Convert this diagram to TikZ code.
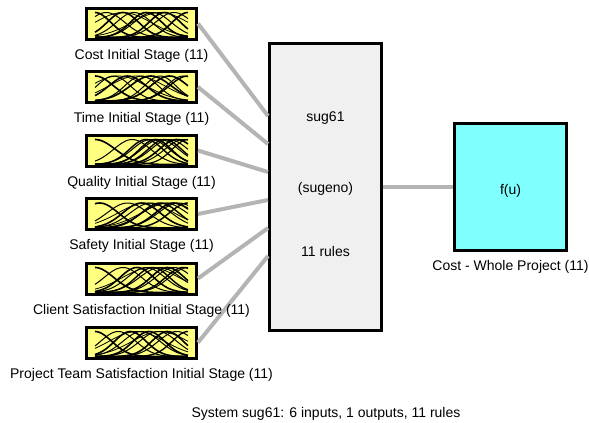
\documentclass[tikz,border=0pt]{standalone}
\usepackage{fontspec}
\setmainfont{Liberation Sans}
\usetikzlibrary{positioning,shadows}

\definecolor{mfyellow}{RGB}{255,255,128}
\definecolor{fisgray}{RGB}{240,240,240}
\definecolor{outcyan}{RGB}{128,255,255}
\definecolor{linkgray}{RGB}{180,180,180}

% membership functions drawn inside an input box
\newcommand{\drawmfs}[2]{%
    \begin{scope}[shift={(#1.south west)}, x=93pt, y=25pt, xshift=10pt, yshift=3pt]
        \foreach \c/\s/\w in {#2}
            \draw[line width=\w pt] plot[domain=0:1, samples=41, smooth]
                (\x, {exp(-(\x-(\c))*(\x-(\c))/(2*\s*\s))});
    \end{scope}%
}

\begin{document}
\begin{tikzpicture}[
                x=1pt, y=-1pt,
                shadowed/.style={
                    draw=black,
                    line width=3pt,
                    drop shadow={shadow xshift=-1pt, shadow yshift=-1pt, opacity=1, fill=black}
                },
                mfbox/.style={
                    shadowed,
                    fill=mfyellow,
                    minimum width=110pt,
                    minimum height=31pt
                },
                fisbox/.style={
                    shadowed,
                    fill=fisgray,
                    minimum width=112pt,
                    minimum height=287pt
                },
                outbox/.style={
                    shadowed,
                    fill=outcyan,
                    minimum width=112pt,
                    minimum height=127pt
                },
                lbl/.style={
                    inner sep=0pt,
                    text height=10pt,
                    text depth=3pt,
                    font=\fontsize{14}{16}\selectfont
                },
                txt/.style={
                    inner sep=0pt,
                    anchor=base,
                    font=\fontsize{14}{16}\selectfont
                },
                link/.style={
                    draw=linkgray,
                    line width=4pt
                }
            ]
    \useasboundingbox (0,0) rectangle (589,423);

    % inputs
    \node[mfbox] (in1) at (141.5,23.5)  {};
    \node[mfbox] (in2) at (141.5,87)    {};
    \node[mfbox] (in3) at (141.5,150.5) {};
    \node[mfbox] (in4) at (141.5,214)   {};
    \node[mfbox] (in5) at (141.5,278.5) {};
    \node[mfbox] (in6) at (141.5,342.5) {};

    \drawmfs{in1}{0/0.17/1.6, 0.12/0.2/1, 0.3/0.17/1.6, 0.42/0.19/1, 0.55/0.17/1.6, 0.62/0.2/1, 0.75/0.17/1.6, 0.85/0.2/1, 1/0.17/1.6, 0.3/0.3/0.8, 0.7/0.3/0.8}
    \drawmfs{in2}{0/0.2/1.6, 0.2/0.18/1, 0.35/0.2/1.6, 0.5/0.18/1, 0.6/0.22/1.6, 0.7/0.17/1, 0.8/0.2/1.6, 0.95/0.18/1, 1/0.2/1.4, 0.45/0.3/0.8, 0.25/0.3/0.8}
    \drawmfs{in3}{0/0.22/1.6, 0.4/0.2/1, 0.55/0.18/1.4, 0.6/0.2/1, 0.65/0.17/1.6, 0.7/0.2/1, 0.75/0.18/1.4, 0.8/0.2/1, 0.88/0.19/1.6, 0.95/0.2/1, 1/0.17/1.2}
    \drawmfs{in4}{0.05/0.2/1.6, 0.35/0.22/1, 0.5/0.2/1.6, 0.6/0.22/1, 0.7/0.2/1.4, 0.75/0.24/1, 0.85/0.2/1.6, 0.9/0.22/1, 1/0.2/1.4, 0.55/0.3/0.8, 0.8/0.3/0.8}
    \drawmfs{in5}{0/0.2/1.6, 0.3/0.2/1, 0.45/0.18/1.6, 0.55/0.2/1, 0.62/0.18/1.4, 0.7/0.22/1, 0.78/0.18/1.6, 0.85/0.2/1, 0.95/0.19/1.4, 1/0.2/1, 0.6/0.3/0.8}
    \drawmfs{in6}{0/0.18/1.6, 0.25/0.19/1, 0.38/0.17/1.6, 0.5/0.2/1, 0.58/0.17/1.6, 0.68/0.2/1, 0.78/0.17/1.6, 0.88/0.2/1, 1/0.17/1.4, 0.45/0.3/0.8, 0.7/0.3/0.8}

    % system and output
    \node[fisbox] (fis) at (325.5,187) {};
    \node[txt] (name) at ([yshift=66pt]fis.center)  {sug61};
    \node[txt] (type) at ([yshift=-5pt]fis.center)  {(sugeno)};
    \node[txt] (rules) at ([yshift=-69pt]fis.center) {11 rules};

    \node[outbox] (out) at (510.5,187) {};
    \node[txt] (fu) at ([yshift=-7pt]out.center) {f(u)};

    \draw[link] (in1.east) -- ([yshift=71pt]fis.west);
    \draw[link] (in2.east) -- ([yshift=43pt]fis.west);
    \draw[link] (in3.east) -- ([yshift=15pt]fis.west);
    \draw[link] (in4.east) -- ([yshift=-13pt]fis.west);
    \draw[link] (in5.east) -- ([yshift=-41pt]fis.west);
    \draw[link] (in6.east) -- ([yshift=-69pt]fis.west);
    \draw[link] (fis.east) -- (out.west);

    % labels on top of the links
    \node[lbl, below=8.5pt of in1] (lbl1) {Cost Initial Stage (11)};
    \node[lbl, below=8.5pt of in2] (lbl2) {Time Initial Stage (11)};
    \node[lbl, below=8.5pt of in3] (lbl3) {Quality Initial Stage (11)};
    \node[lbl, below=8.5pt of in4] (lbl4) {Safety Initial Stage (11)};
    \node[lbl, below=8.5pt of in5] (lbl5) {Client Satisfaction Initial Stage (11)};
    \node[lbl, below=8.5pt of in6] (lbl6) {Project Team Satisfaction Initial Stage (11)};
    \node[lbl, below=8.5pt of out] (lblout) {Cost - Whole Project (11)};

    \node[txt] (sys) at (326,417) {System sug61: 6 inputs, 1 outputs, 11 rules};
\end{tikzpicture}
\end{document}
